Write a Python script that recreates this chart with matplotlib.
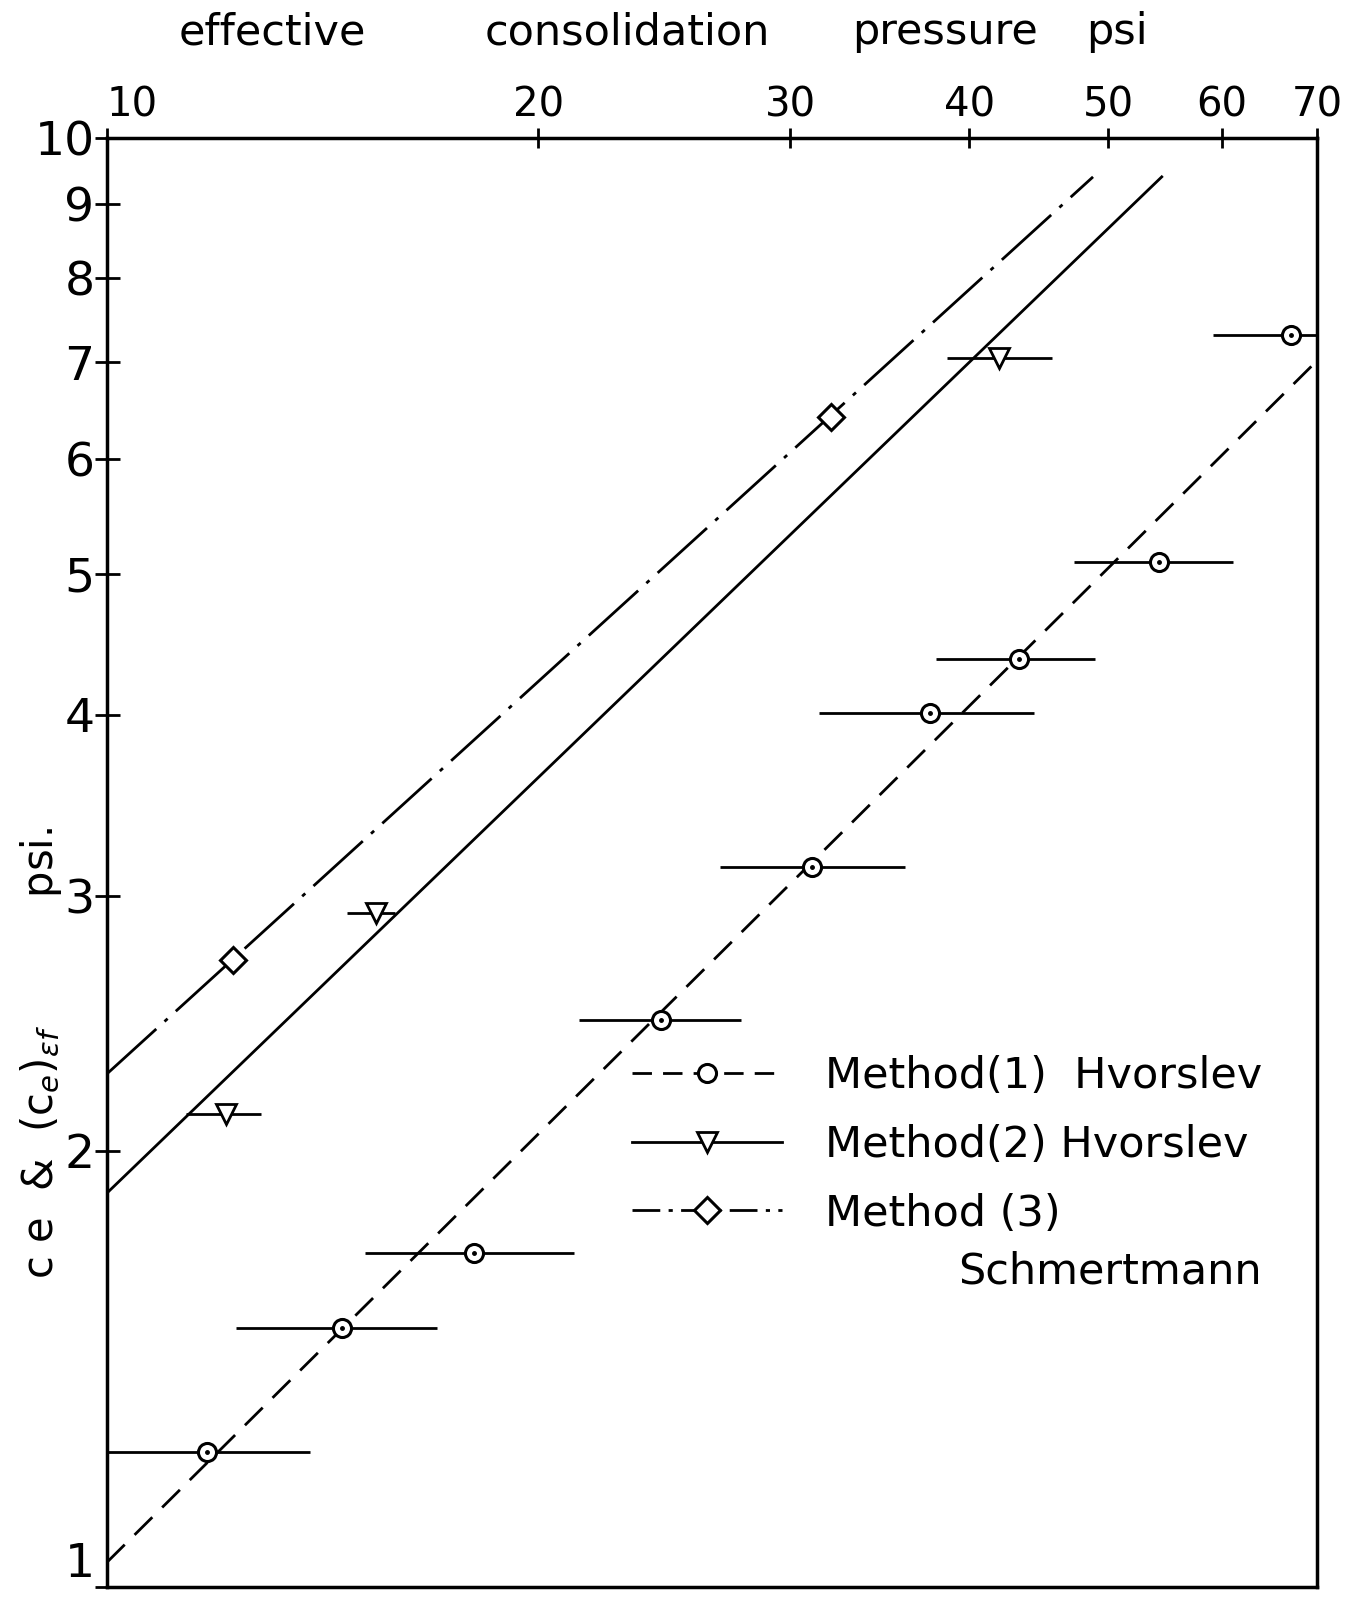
import matplotlib
matplotlib.use("Agg")
import matplotlib.pyplot as plt
from matplotlib.lines import Line2D
from matplotlib.ticker import FixedLocator, NullLocator, FixedFormatter

plt.rcParams["font.family"] = ["DejaVu Sans"]
plt.rcParams["mathtext.fontset"] = "dejavusans"

# Method (1) Hvorslev - points with horizontal range bars
m1_p = [11.75, 14.6, 18.05, 24.35, 31.05, 37.55, 43.35, 54.3, 67.1]
m1_c = [1.24, 1.51, 1.70, 2.46, 3.14, 4.01, 4.37, 5.10, 7.31]
m1_lo = [9.5, 12.3, 15.15, 21.35, 26.8, 31.4, 37.9, 47.3, 59.2]
m1_hi = [13.85, 17.0, 21.2, 27.7, 36.05, 44.35, 48.95, 61.1, 75.0]

# Method (2) Hvorslev
m2_p = [12.1, 15.4, 41.95]
m2_c = [2.12, 2.92, 7.05]
m2_lo = [11.35, 14.7, 38.6]
m2_hi = [12.8, 15.9, 45.7]

# Method (3) Schmertmann
m3_p = [12.25, 32.0]
m3_c = [2.71, 6.42]

# fitted lines (end points)
m1_fit_x = [10, 72]
m1_fit_y = [1.04, 7.22]
m2_fit_x = [10, 54.5]
m2_fit_y = [1.87, 9.40]
m3_fit_x = [10, 48.8]
m3_fit_y = [2.26, 9.40]

x_ticks = [10, 20, 30, 40, 50, 60, 70]
y_ticks = [1, 2, 3, 4, 5, 6, 7, 8, 9, 10]

title_words = ["effective", "consolidation", "pressure", "psi"]
title_pos = [0.201, 0.463, 0.698, 0.825]

fig = plt.figure(figsize=(13.54, 16.02), dpi=100)
ax = fig.add_axes([0.079, 0.0094, 0.894, 0.9045])
ax.set_xscale("log")
ax.set_yscale("log")
ax.set_xlim(10, 70)
ax.set_ylim(1, 10)

lw = 2.0
dash1 = (9, 5)
dash3 = (24, 4, 1.5, 4)

# fitted lines
ax.plot(m1_fit_x, m1_fit_y, color="black", lw=lw, linestyle=(0, dash1))
ax.plot(m2_fit_x, m2_fit_y, color="black", lw=lw)
ax.plot(m3_fit_x, m3_fit_y, color="black", lw=lw, linestyle=(0, dash3))

# range bars
ax.hlines(m1_c, m1_lo, m1_hi, color="black", lw=lw)
ax.hlines(m2_c, m2_lo, m2_hi, color="black", lw=lw)

# markers
ax.plot(m1_p, m1_c, "o", ms=13, mfc="white", mec="black", mew=2.2, ls="none")
ax.plot(m1_p, m1_c, ".", ms=5, color="black", ls="none")
ax.plot(m2_p, m2_c, "v", ms=14, mfc="white", mec="black", mew=2.0, ls="none")
ax.plot(m3_p, m3_c, "D", ms=13, mfc="white", mec="black", mew=2.2, ls="none")

# axes styling
for s in ax.spines.values():
    s.set_linewidth(2.5)
ax.xaxis.tick_top()
ax.xaxis.set_major_locator(FixedLocator(x_ticks))
ax.xaxis.set_major_formatter(FixedFormatter([str(v) for v in x_ticks]))
ax.xaxis.set_minor_locator(NullLocator())
ax.yaxis.set_major_locator(FixedLocator(y_ticks))
ax.yaxis.set_major_formatter(FixedFormatter([str(v) for v in y_ticks]))
ax.yaxis.set_minor_locator(NullLocator())
ax.tick_params(axis="x", direction="inout", length=14, width=2, labelsize=29, pad=2)
ax.tick_params(axis="y", direction="inout", length=18, width=2, labelsize=34, pad=0)
fig.canvas.draw()
ax.get_xticklabels()[0].set_ha("left")
ax.get_yticklabels()[0].set_va("bottom")

for w, xp in zip(title_words, title_pos):
    fig.text(xp, 0.980, w, ha="center", va="center", fontsize=31)
fig.text(0.030, 0.343, r"c e  &  (c$_e$)$_{\epsilon f}$          psi.",
         rotation=90, ha="center", va="center", fontsize=30)

handles = [
    Line2D([], [], color="black", lw=lw, linestyle=(0, (7, 4)), marker="o", ms=13,
           mfc="white", mec="black", mew=2.2),
    Line2D([], [], color="black", lw=lw, marker="v", ms=14,
           mfc="white", mec="black", mew=2.0),
    Line2D([], [], color="black", lw=lw, linestyle=(0, (10, 3, 1.5, 3)), marker="D",
           ms=13, mfc="white", mec="black", mew=2.2),
]
labels = ["Method(1)  Hvorslev", "Method(2) Hvorslev", "Method (3)"]
ax.legend(handles, labels, loc="upper left", bbox_to_anchor=(0.4335, 0.367),
          frameon=False, fontsize=31, handlelength=3.5, handletextpad=1.0,
          numpoints=1, borderpad=0, borderaxespad=0, labelspacing=0.62)
ax.text(0.703, 0.218, "Schmertmann", transform=ax.transAxes,
        ha="left", va="center", fontsize=31)

plt.savefig("out.png", dpi=100)
